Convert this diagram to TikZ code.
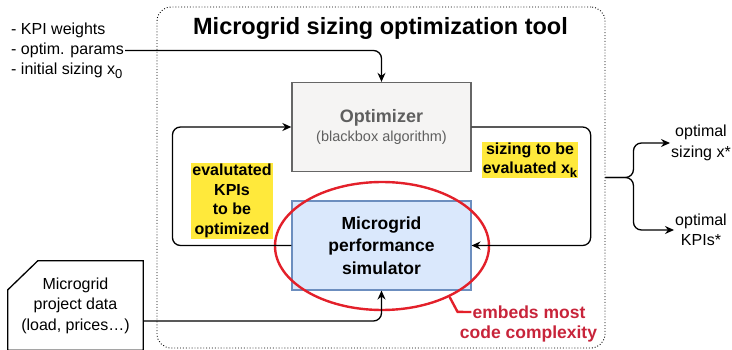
\documentclass[tikz,border=0pt]{standalone}
\usepackage{fontspec}
\setmainfont{Liberation Sans}
\usepackage{xcolor}
\usepackage{tikz}
\usetikzlibrary{arrows.meta,shapes.geometric,calc}

\definecolor{optfill}{HTML}{F5F4F3}
\definecolor{optdraw}{HTML}{666666}
\definecolor{opttext}{HTML}{5F5F5F}
\definecolor{simfill}{HTML}{DAE8FC}
\definecolor{simdraw}{HTML}{6C8EBF}
\definecolor{noteyellow}{HTML}{FFE93B}
\definecolor{alertred}{HTML}{E3202A}
\definecolor{alerttext}{HTML}{C8243A}

\newcommand{\lowidx}[1]{\raisebox{-3.5pt}{\fontsize{13}{13}\selectfont #1}}

\begin{document}
\begin{tikzpicture}[x=1pt,y=1pt,yscale=-1,
  txt/.style={inner sep=1pt,align=center,font=\fontsize{16}{20.5}\selectfont},
  flow/.style={line width=1.3pt,rounded corners=8pt,-{Stealth[length=9pt,width=8pt]}},
  optbox/.style={draw=optdraw,fill=optfill,line width=1.3pt,minimum width=179pt,minimum height=89pt,align=center,text=opttext},
  simbox/.style={draw=simdraw,fill=simfill,line width=1.1pt,minimum width=179pt,minimum height=89pt,align=center,font=\fontsize{17.5}{22.5}\selectfont\bfseries},
  notebox/.style={fill=noteyellow,inner sep=1pt,align=center,font=\fontsize{16}{19.5}\selectfont\bfseries},
  alertlbl/.style={inner sep=1pt,text=alerttext,font=\fontsize{17.5}{21.5}\selectfont\bfseries}]

\useasboundingbox (0,0) rectangle (732,350);

\node [draw, dotted, line width=0.9pt, rounded corners=14pt, minimum width=448pt, minimum height=341pt] (tool) at (381,177.5) {};

\node [font=\fontsize{23.5}{27}\selectfont\bfseries] (title) at (380.5,28) {Microgrid sizing optimization tool};

\node [optbox] (opt) at (381.5,127) {{\fontsize{18}{22}\selectfont\bfseries Optimizer}\\[3pt]{\fontsize{14.5}{18}\selectfont (blackbox algorithm)}};

\node [simbox] (sim) at (381.5,245.5) {Microgrid\\performance\\simulator};

\node [draw=alertred, line width=2.4pt, ellipse, minimum width=214pt, minimum height=128pt] (cplx) at (382,246) {};

\node [notebox] (evalkpi) at (232,201) {evalutated\\KPIs\\to be\\optimized};

\node [notebox] (evalx) at (530,160) {sizing to be\\evaluated x\lowidx{k}};

\node [txt, anchor=west] (kpiw) at (10,30) {- KPI weights};

\node [txt, anchor=west] (oparams) at (10,50.5) {- optim. params};

\node [txt, anchor=west] (initx) at (10,71) {- initial sizing x\lowidx{0}};

\node [txt, minimum width=135pt, minimum height=89pt] (data) at (75.5,305.5) {Microgrid\\project data\\(load, prices…)};

\draw [line width=1.3pt] ($(data.north west)+(30,0)$) -- (data.north east) -- (data.south east) -- (data.south west) -- ($(data.north west)+(0,29)$) -- cycle;

\node [alertlbl] (cplxtop) at (529,312) {embeds most};

\node [alertlbl] (cplxbot) at (528.5,333.5) {code complexity};

\node [txt] (optx) at (701,143) {optimal\\sizing x*};

\node [txt] (optk) at (701,230) {optimal\\KPIs*};

\coordinate (fork) at ($(tool.east)+(28,0)$);

\draw [flow] (oparams.east) -| (opt.north);

\draw [flow] (sim.west) -- ++(-119,0) |- (opt.west);

\draw [flow] (opt.east) -- ++(119,0) |- (sim.east);

\draw [flow] ($(data.east)+(0,15.5)$) -| (sim.south);

\draw [alertred, line width=2.4pt] (cplx.-37) -- ++(8,15) -- (cplxtop.west);

\draw [flow] (tool.east) -- (fork) |- (optx.west);

\draw [flow] (tool.east) -- (fork) |- (optk.west);

\end{tikzpicture}
\end{document}
